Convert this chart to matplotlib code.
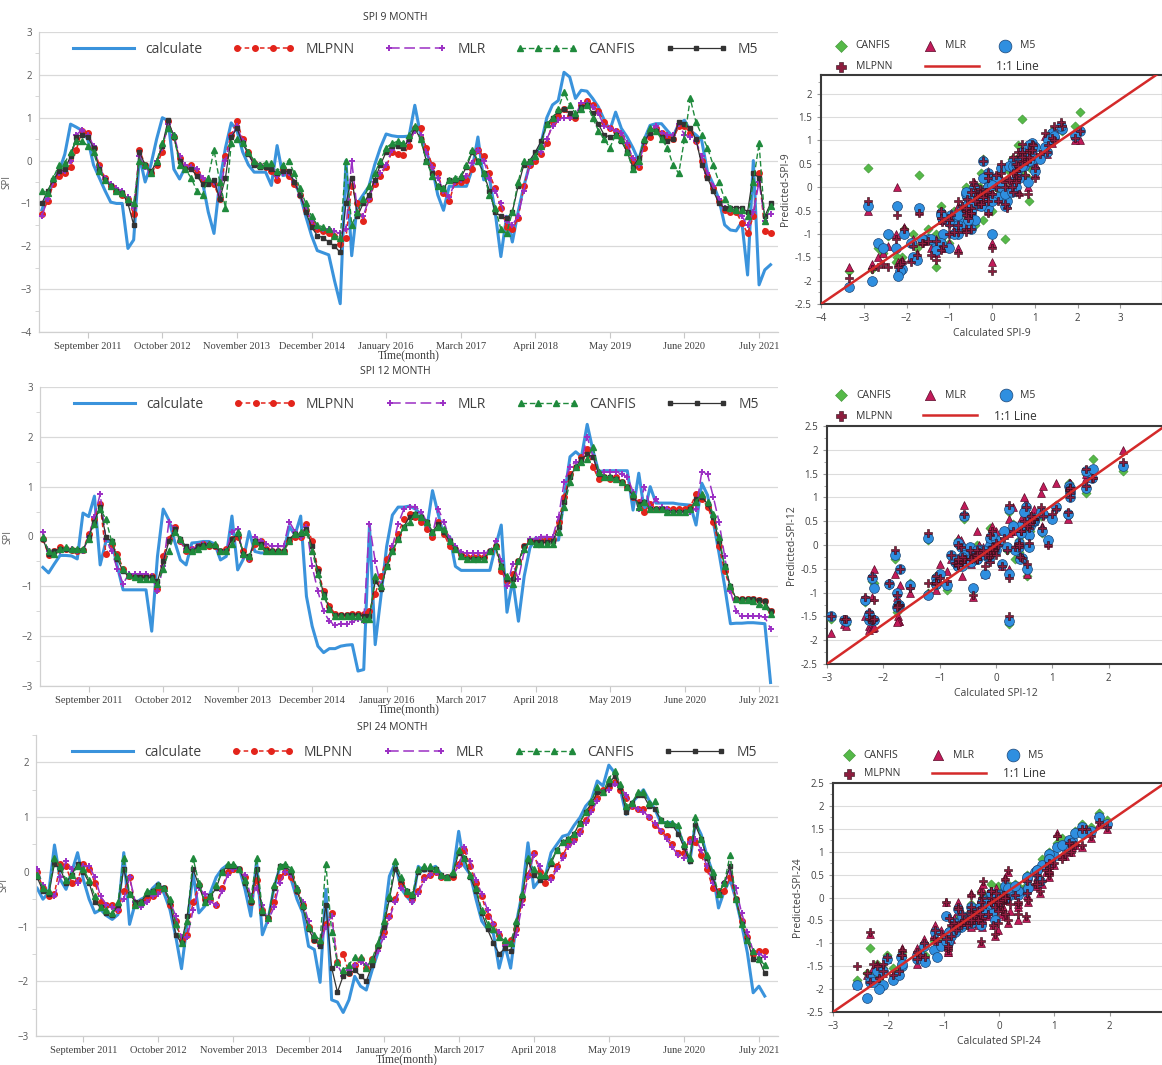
import numpy as np
import matplotlib
matplotlib.use('Agg')
import matplotlib.pyplot as plt
from matplotlib.lines import Line2D
from matplotlib.legend_handler import HandlerLine2D
from matplotlib.ticker import MultipleLocator, FuncFormatter

plt.rcParams['font.family'] = ['Open Sans', 'DejaVu Sans']

month_labels = ['September 2011', 'October 2012', 'November 2013', 'December 2014',
                'January 2016', 'March 2017', 'April 2018', 'May 2019', 'June 2020', 'July 2021']
month_ticks = [8, 21, 34, 47, 60, 73, 86, 99, 112, 125]

# ---------------- SPI 9 ----------------
calc9 = [-1.15, -0.80, -0.50, -0.25, 0.15, 0.85, 0.78, 0.70, 0.50, -0.10,
         -0.40, -0.70, -0.97, -1.00, -1.00, -2.05, -1.85, 0.10, -0.50, -0.10,
         0.50, 1.00, 0.93, -0.20, -0.43, -0.15, -0.15, -0.20, -0.50, -1.20,
         -1.70, -0.50, 0.30, 0.88, 0.70, 0.20, -0.10, -0.27, -0.27, -0.27,
         -0.58, 0.35, -0.35, -0.32, -0.50, -0.80, -1.30, -1.75, -2.10, -2.15,
         -2.20, -2.80, -3.34, 0.00, -2.22, -1.00, -0.80, -0.60, -0.10, 0.30,
         0.62, 0.58, 0.56, 0.56, 0.57, 1.29, 0.60, 0.20, -0.15, -0.80,
         -1.16, -0.60, -0.60, -0.60, -0.60, -0.20, 0.55, -0.45, -0.40, -1.20,
         -2.24, -1.30, -1.90, -1.20, -0.60, -0.10, 0.10, 0.40, 1.00, 1.30,
         1.40, 2.06, 1.95, 1.45, 1.64, 1.62, 1.45, 1.25, 0.95, 0.71,
         1.13, 0.75, 0.55, 0.30, 0.00, 0.50, 0.82, 0.86, 0.86, 0.70,
         0.55, 0.86, 0.94, 0.70, 0.60, 0.47, -0.26, -0.55, -0.90, -1.50,
         -1.62, -1.64, -1.43, -2.67, 0.00, -2.90, -2.55, -2.43]
mlpnn9 = [-1.25, -0.95, -0.55, -0.35, -0.30, -0.15, 0.25, 0.70, 0.65, 0.30,
          -0.10, -0.40, -0.60, -0.70, -0.80, -0.90, -1.25, 0.25, -0.10, -0.30,
          -0.10, 0.20, 0.92, 0.55, 0.05, -0.15, -0.10, -0.30, -0.45, -0.50,
          -0.55, -0.90, 0.10, 0.60, 0.92, 0.50, 0.20, -0.05, -0.12, -0.15,
          -0.25, -0.45, -0.20, -0.35, -0.55, -0.80, -1.15, -1.45, -1.60, -1.65,
          -1.70, -1.75, -1.95, -1.80, -0.60, -1.00, -1.40, -0.90, -0.55, -0.35,
          -0.15, 0.20, 0.15, 0.12, 0.35, 0.75, 0.75, 0.30, -0.10, -0.30,
          -0.75, -0.95, -0.50, -0.50, -0.45, -0.20, 0.25, 0.10, -0.30, -0.65,
          -1.10, -1.55, -1.60, -1.35, -0.60, -0.10, 0.00, 0.15, 0.40, 0.90,
          1.05, 1.20, 1.05, 1.00, 1.30, 1.40, 1.30, 1.15, 0.90, 0.75,
          0.70, 0.55, 0.35, 0.00, -0.15, 0.30, 0.55, 0.75, 0.65, 0.55,
          0.50, 0.80, 0.80, 0.65, 0.45, 0.00, -0.35, -0.65, -0.95, -1.15,
          -1.20, -1.20, -1.45, -1.70, -1.30, -0.30, -1.65, -1.70]
mlr9 = [-1.30, -0.90, -0.50, -0.30, -0.25, 0.00, 0.60, 0.72, 0.60, 0.35,
        -0.15, -0.40, -0.55, -0.65, -0.70, -0.85, -1.10, 0.10, -0.15, -0.30,
        0.00, 0.30, 0.85, 0.60, 0.10, -0.10, -0.15, -0.20, -0.40, -0.50,
        -0.50, -0.80, 0.00, 0.55, 0.80, 0.45, 0.15, -0.10, -0.10, -0.15,
        -0.10, -0.35, -0.30, -0.30, -0.50, -0.80, -1.10, -1.40, -1.55, -1.60,
        -1.60, -1.65, -1.70, -1.60, 0.00, -1.20, -1.30, -0.90, -0.50, -0.30,
        -0.10, 0.25, 0.35, 0.35, 0.45, 0.70, 0.60, 0.20, -0.15, -0.40,
        -0.70, -0.85, -0.50, -0.45, -0.35, -0.05, 0.25, 0.00, -0.40, -0.70,
        -1.00, -1.40, -1.50, -1.30, -0.70, -0.10, 0.05, 0.20, 0.50, 0.80,
        0.95, 1.00, 1.00, 1.05, 1.35, 1.35, 1.25, 1.10, 0.80, 0.75,
        0.70, 0.65, 0.40, 0.05, -0.10, 0.40, 0.70, 0.80, 0.65, 0.60,
        0.60, 0.85, 0.60, 0.55, 0.45, 0.10, -0.30, -0.60, -0.90, -1.10,
        -1.15, -1.15, -1.30, -1.50, -1.20, -0.50, -1.40, -1.25]
canfis9 = [-0.70, -0.75, -0.40, -0.10, -0.05, 0.20, 0.45, 0.45, 0.35, 0.20,
           -0.25, -0.45, -0.60, -0.70, -0.75, -0.90, -1.00, 0.00, -0.10, -0.30,
           0.00, 0.40, 0.75, 0.60, -0.10, -0.20, -0.40, -0.70, -0.80, -0.40,
           0.25, -0.50, -1.10, 0.40, 0.50, 0.40, 0.20, 0.00, -0.10, -0.05,
           -0.05, -0.25, -0.10, 0.00, -0.30, -0.65, -1.00, -1.30, -1.50, -1.55,
           -1.60, -1.75, -1.80, 0.00, -1.50, -1.20, -0.90, -0.60, -0.30, 0.00,
           0.30, 0.40, 0.45, 0.40, 0.60, 0.80, 0.50, 0.00, -0.35, -0.60,
           -0.65, -0.45, -0.40, -0.35, -0.10, 0.25, 0.00, -0.30, -0.80, -1.10,
           -1.60, -1.70, -1.20, -0.50, 0.00, 0.00, 0.10, 0.35, 0.85, 1.00,
           1.20, 1.60, 1.30, 1.10, 1.20, 1.30, 1.00, 0.70, 0.50, 0.30,
           0.60, 0.50, 0.20, -0.20, 0.00, 0.50, 0.75, 0.70, 0.50, 0.30,
           -0.10, -0.30, 0.50, 1.45, 0.90, 0.60, 0.30, -0.10, -0.50, -0.90,
           -1.10, -1.15, -1.15, -1.30, -0.50, 0.40, -1.40, -1.05]
m5_9 = [-1.00, -0.70, -0.45, -0.25, -0.20, 0.10, 0.55, 0.60, 0.55, 0.30,
        -0.20, -0.45, -0.60, -0.70, -0.75, -1.00, -1.50, 0.20, -0.10, -0.25,
        -0.05, 0.35, 0.95, 0.55, 0.00, -0.20, -0.20, -0.35, -0.55, -0.55,
        -0.45, -0.90, -0.40, 0.55, 0.75, 0.40, 0.15, -0.10, -0.15, -0.15,
        -0.20, -0.30, -0.25, -0.25, -0.50, -0.80, -1.20, -1.55, -1.75, -1.80,
        -1.90, -2.00, -2.14, -1.00, -0.40, -1.30, -1.00, -0.80, -0.45, -0.10,
        0.20, 0.35, 0.35, 0.30, 0.50, 0.75, 0.50, 0.00, -0.30, -0.60,
        -0.65, -0.45, -0.45, -0.40, -0.15, 0.20, 0.00, -0.30, -0.70, -1.20,
        -1.30, -1.35, -1.20, -0.60, -0.10, 0.00, 0.20, 0.45, 0.85, 1.00,
        1.15, 1.20, 1.10, 1.05, 1.25, 1.30, 1.10, 0.85, 0.60, 0.55,
        0.60, 0.45, 0.20, -0.15, 0.05, 0.45, 0.65, 0.70, 0.55, 0.45,
        0.50, 0.90, 0.85, 0.75, 0.50, -0.10, -0.40, -0.70, -1.00, -1.10,
        -1.10, -1.10, -1.10, -1.20, -0.30, -0.40, -1.30, -1.00]

# ---------------- SPI 12 ----------------
calc12 = [-0.62, -0.73, -0.55, -0.38, -0.38, -0.39, -0.45, 0.47, 0.40, 0.81,
          -0.57, -0.10, -0.10, -0.60, -1.07, -1.07, -1.07, -1.07, -1.07, -1.90,
          -0.40, 0.55, 0.33, -0.10, -0.47, -0.57, -0.13, -0.12, -0.10, -0.10,
          -0.15, -0.47, -0.40, 0.41, -0.67, -0.45, 0.10, -0.30, -0.33, -0.33,
          -0.33, -0.33, -0.33, 0.20, 0.03, 0.41, -1.20, -1.80, -2.20, -2.33,
          -2.25, -2.25, -2.20, -2.18, -2.17, -2.70, -2.67, 0.23, -2.17, -1.20,
          -0.20, 0.43, 0.59, 0.59, 0.61, 0.55, 0.45, 0.15, 0.92, 0.45,
          0.00, 0.00, -0.60, -0.68, -0.68, -0.68, -0.68, -0.68, -0.68, -0.20,
          0.23, -1.52, -0.87, -1.70, -0.80, -0.23, -0.03, -0.05, -0.06, -0.07,
          -0.07, 0.80, 1.60, 1.70, 1.60, 2.25, 1.73, 1.30, 1.32, 1.32,
          1.32, 1.32, 1.32, 0.53, 1.27, 0.50, 1.00, 0.67, 0.67, 0.67,
          0.67, 0.65, 0.64, 0.63, 0.23, 1.07, 0.83, 0.30, -0.33, -1.00,
          -1.75, -1.74, -1.74, -1.73, -1.73, -1.74, -1.75, -2.93]
mlpnn12 = [-0.05, -0.37, -0.30, -0.22, -0.25, -0.28, -0.30, -0.28, 0.05, 0.35,
           0.65, -0.35, -0.15, -0.35, -0.65, -0.80, -0.80, -0.82, -0.80, -0.80,
           -1.05, -0.40, -0.05, 0.20, -0.10, -0.30, -0.25, -0.20, -0.15, -0.20,
           -0.20, -0.30, -0.25, -0.05, 0.00, -0.30, -0.45, -0.15, -0.10, -0.25,
           -0.30, -0.30, -0.30, -0.10, 0.00, 0.00, 0.25, -0.10, -0.65, -1.10,
           -1.40, -1.55, -1.58, -1.57, -1.55, -1.55, -1.55, -1.50, -1.15, -0.80,
           -0.45, -0.25, 0.05, 0.35, 0.45, 0.40, 0.30, 0.15, 0.00, 0.30,
           0.05, -0.20, -0.25, -0.35, -0.42, -0.42, -0.42, -0.42, -0.30, -0.20,
           -0.70, -0.90, -0.75, -0.50, -0.20, -0.10, -0.10, -0.10, -0.05, -0.05,
           0.30, 0.80, 1.25, 1.40, 1.60, 1.75, 1.40, 1.15, 1.20, 1.15,
           1.20, 1.10, 1.00, 0.80, 0.70, 0.50, 0.65, 0.55, 0.55, 0.55,
           0.55, 0.55, 0.55, 0.60, 0.85, 0.75, 0.60, 0.30, -0.20, -0.70,
           -1.05, -1.25, -1.25, -1.25, -1.26, -1.28, -1.30, -1.50]
mlr12 = [0.10, -0.30, -0.35, -0.30, -0.25, -0.25, -0.30, -0.30, 0.00, 0.40,
         0.85, -0.05, -0.30, -0.65, -0.95, -0.75, -0.75, -0.75, -0.75, -0.80,
         -1.10, -0.60, 0.30, 0.15, -0.10, -0.25, -0.25, -0.20, -0.15, -0.15,
         -0.20, -0.30, -0.30, 0.10, 0.15, -0.40, -0.45, 0.00, -0.10, -0.15,
         -0.20, -0.20, -0.20, 0.30, 0.10, 0.00, 0.20, -0.60, -1.10, -1.50,
         -1.70, -1.78, -1.75, -1.75, -1.72, -1.65, -1.70, 0.25, -0.50, -1.00,
         -0.60, -0.20, 0.25, 0.55, 0.60, 0.60, 0.50, 0.30, 0.05, 0.55,
         0.30, -0.05, -0.20, -0.32, -0.33, -0.33, -0.33, -0.33, -0.30, -0.10,
         -0.50, -1.00, -0.55, -0.85, -0.30, -0.05, -0.05, 0.00, 0.00, 0.00,
         0.40, 1.10, 1.40, 1.50, 1.50, 2.00, 1.60, 1.30, 1.30, 1.30,
         1.30, 1.25, 1.20, 0.90, 0.55, 1.00, 0.60, 0.75, 0.60, 0.55,
         0.50, 0.50, 0.50, 0.50, 0.55, 1.30, 1.25, 0.80, 0.30, -0.40,
         -1.10, -1.50, -1.60, -1.60, -1.60, -1.60, -1.62, -1.85]
canfis12 = [0.00, -0.30, -0.35, -0.25, -0.22, -0.25, -0.25, -0.25, -0.05, 0.25,
            0.55, 0.35, -0.10, -0.40, -0.65, -0.78, -0.82, -0.85, -0.85, -0.85,
            -0.95, -0.65, -0.30, 0.10, -0.05, -0.25, -0.30, -0.25, -0.20, -0.15,
            -0.15, -0.30, -0.30, -0.15, 0.10, -0.35, -0.40, -0.10, -0.20, -0.30,
            -0.30, -0.30, -0.30, -0.10, 0.05, 0.10, 0.10, -0.30, -0.75, -1.20,
            -1.45, -1.60, -1.60, -1.60, -1.60, -1.60, -1.65, -1.65, -0.80, -1.00,
            -0.60, -0.30, -0.05, 0.20, 0.30, 0.45, 0.40, 0.30, 0.10, 0.20,
            0.15, -0.10, -0.25, -0.40, -0.45, -0.45, -0.45, -0.45, -0.30, -0.20,
            -0.60, -0.80, -0.95, -0.50, -0.25, -0.10, -0.15, -0.15, -0.15, -0.15,
            0.10, 0.60, 1.10, 1.40, 1.50, 1.55, 1.80, 1.30, 1.20, 1.20,
            1.15, 1.10, 1.00, 0.85, 0.60, 0.70, 0.55, 0.55, 0.55, 0.50,
            0.50, 0.50, 0.50, 0.55, 0.70, 0.85, 0.70, 0.45, 0.00, -0.60,
            -1.00, -1.25, -1.27, -1.28, -1.30, -1.35, -1.40, -1.55]
m5_12 = [-0.05, -0.35, -0.30, -0.25, -0.25, -0.28, -0.28, -0.28, 0.00, 0.30,
         0.60, 0.00, -0.10, -0.45, -0.70, -0.80, -0.82, -0.82, -0.82, -0.82,
         -0.90, -0.50, -0.10, 0.15, -0.05, -0.20, -0.30, -0.20, -0.18, -0.17,
         -0.20, -0.30, -0.30, -0.05, 0.05, -0.35, -0.40, -0.10, -0.15, -0.28,
         -0.30, -0.30, -0.30, -0.05, 0.05, 0.05, 0.15, -0.20, -0.70, -1.15,
         -1.45, -1.58, -1.58, -1.58, -1.57, -1.57, -1.60, -1.60, -0.90, -1.05,
         -0.60, -0.30, -0.05, 0.20, 0.40, 0.45, 0.40, 0.30, 0.10, 0.25,
         0.10, -0.10, -0.25, -0.40, -0.45, -0.45, -0.45, -0.45, -0.30, -0.20,
         -0.60, -0.85, -0.85, -0.50, -0.20, -0.10, -0.12, -0.12, -0.12, -0.10,
         0.20, 0.70, 1.20, 1.40, 1.55, 1.65, 1.60, 1.25, 1.20, 1.20,
         1.15, 1.10, 1.00, 0.80, 0.65, 0.70, 0.55, 0.55, 0.55, 0.50,
         0.50, 0.50, 0.50, 0.55, 0.75, 0.80, 0.65, 0.40, -0.10, -0.60,
         -1.00, -1.25, -1.25, -1.25, -1.26, -1.28, -1.30, -1.50]

# ---------------- SPI 24 ----------------
calc24 = [-0.30, -0.50, -0.38, 0.49, -0.14, -0.32, 0.00, 0.35, -0.14, -0.50,
          -0.75, -0.69, -0.80, -0.87, -0.78, 0.35, -0.96, -0.57, -0.50, -0.45,
          -0.30, -0.20, -0.40, -0.69, -1.18, -1.77, -0.93, -0.02, -0.75, -0.63,
          -0.38, -0.10, 0.05, 0.13, 0.10, 0.07, -0.32, -0.81, 0.20, -1.15,
          -0.87, -0.30, 0.07, 0.10, -0.14, -0.50, -0.75, -1.36, -1.42, -2.02,
          -0.32, -2.34, -2.38, -2.57, -2.34, -1.91, -2.09, -2.16, -1.80, -1.48,
          -0.93, -0.08, 0.16, -0.30, -0.45, -0.57, 0.10, 0.01, 0.05, 0.10,
          -0.05, -0.14, -0.02, 0.74, 0.10, -0.05, -0.50, -0.90, -1.05, -1.12,
          -1.76, -1.34, -1.76, -0.93, -0.38, 0.53, -0.29, -0.15, -0.08, 0.35,
          0.50, 0.65, 0.68, 0.85, 0.99, 1.20, 1.32, 1.66, 1.57, 1.95,
          1.81, 1.50, 1.05, 1.26, 1.38, 1.50, 1.30, 1.14, 0.90, 0.90,
          0.90, 0.77, 0.50, 0.16, 0.90, 0.68, 0.29, -0.02, -0.66, -0.35,
          -0.14, -0.50, -0.96, -1.48, -2.21, -2.09, -2.27]
mlpnn24 = [0.00, -0.30, -0.45, -0.40, 0.15, 0.10, -0.20, -0.15, 0.15, 0.05,
           -0.20, -0.55, -0.60, -0.60, -0.70, -0.35, -0.10, -0.60, -0.55, -0.50,
           -0.45, -0.35, -0.30, -0.60, -0.90, -1.25, -1.15, -0.55, -0.25, -0.50,
           -0.50, -0.60, -0.30, 0.00, 0.05, 0.05, -0.10, -0.55, -0.15, -0.70,
           -0.85, -0.55, -0.10, 0.00, -0.10, -0.35, -0.60, -1.00, -1.25, -1.30,
           -0.95, -0.75, -1.65, -1.50, -1.85, -1.70, -1.60, -1.75, -1.60, -1.35,
           -1.10, -0.80, -0.50, -0.20, -0.40, -0.50, -0.35, -0.10, -0.05, 0.00,
           -0.10, -0.10, -0.10, 0.15, 0.40, 0.10, -0.20, -0.45, -0.80, -0.95,
           -1.15, -1.30, -1.25, -1.05, -0.50, -0.05, 0.35, 0.00, -0.20, -0.10,
           0.10, 0.30, 0.50, 0.60, 0.75, 0.95, 1.15, 1.35, 1.50, 1.55,
           1.65, 1.50, 1.35, 1.20, 1.15, 1.15, 1.00, 0.85, 0.75, 0.65,
           0.50, 0.35, 0.35, 0.60, 0.55, 0.30, 0.05, -0.30, -0.35, -0.35,
           -0.10, -0.50, -0.90, -1.20, -1.50, -1.45, -1.45]
mlr24 = [0.05, -0.25, -0.40, -0.45, -0.10, 0.20, 0.05, -0.20, 0.10, 0.10,
         -0.10, -0.45, -0.60, -0.65, -0.70, -0.50, -0.10, -0.55, -0.65, -0.55,
         -0.45, -0.40, -0.30, -0.55, -0.80, -1.20, -1.20, -0.70, -0.30, -0.40,
         -0.55, -0.60, -0.35, -0.05, 0.05, 0.05, -0.05, -0.45, -0.30, -0.60,
         -0.90, -0.65, -0.20, 0.00, -0.05, -0.30, -0.55, -0.90, -1.20, -1.35,
         -1.00, -0.80, -1.70, -1.90, -1.80, -1.70, -1.65, -1.70, -1.65, -1.45,
         -1.20, -0.85, -0.55, -0.30, -0.35, -0.55, -0.40, -0.15, -0.05, 0.00,
         -0.10, -0.10, -0.05, 0.10, 0.45, 0.20, -0.15, -0.40, -0.70, -0.95,
         -1.10, -1.35, -1.30, -1.15, -0.60, -0.10, 0.30, 0.10, -0.10, -0.15,
         0.05, 0.25, 0.45, 0.55, 0.70, 0.90, 1.10, 1.30, 1.45, 1.50,
         1.60, 1.55, 1.40, 1.20, 1.15, 1.10, 1.00, 0.90, 0.75, 0.60,
         0.45, 0.30, 0.25, 0.55, 0.60, 0.40, 0.10, -0.20, -0.40, -0.20,
         0.00, -0.30, -0.75, -1.10, -1.45, -1.50, -1.55]
canfis24 = [-0.05, -0.30, -0.35, 0.25, 0.10, -0.15, -0.05, 0.10, 0.05, -0.15,
            -0.45, -0.65, -0.70, -0.75, -0.55, 0.25, -0.40, -0.60, -0.55, -0.35,
            -0.35, -0.25, -0.30, -0.50, -0.95, -1.30, -0.90, 0.25, -0.20, -0.55,
            -0.45, -0.25, 0.00, 0.15, 0.15, 0.05, -0.15, -0.50, 0.25, -0.70,
            -0.85, -0.25, 0.10, 0.15, 0.05, -0.30, -0.60, -1.00, -1.15, -1.25,
            0.15, -1.10, -1.65, -1.80, -1.70, -1.55, -1.55, -1.75, -1.60, -1.30,
            -0.90, -0.45, 0.20, -0.10, -0.35, -0.40, 0.05, 0.10, 0.10, 0.05,
            -0.05, -0.10, 0.00, 0.40, 0.25, -0.05, -0.30, -0.70, -0.95, -1.05,
            -1.20, -1.25, -1.30, -0.90, -0.40, 0.25, 0.05, -0.05, -0.05, 0.20,
            0.40, 0.55, 0.60, 0.70, 0.90, 1.10, 1.30, 1.55, 1.45, 1.70,
            1.85, 1.60, 1.20, 1.25, 1.45, 1.45, 1.25, 1.30, 0.95, 0.90,
            0.90, 0.85, 0.50, 0.25, 1.00, 0.60, 0.30, 0.00, -0.40, -0.20,
            0.30, -0.50, -0.95, -1.25, -1.45, -1.60, -1.70]
m5_24 = [-0.10, -0.35, -0.40, 0.15, 0.05, -0.20, -0.05, 0.15, 0.00, -0.20,
         -0.55, -0.65, -0.75, -0.78, -0.60, 0.05, -0.40, -0.55, -0.55, -0.40,
         -0.35, -0.25, -0.30, -0.55, -1.15, -1.30, -0.80, 0.05, -0.25, -0.55,
         -0.45, -0.30, 0.00, 0.10, 0.10, 0.05, -0.20, -0.55, 0.05, -0.75,
         -0.85, -0.30, 0.10, 0.10, 0.00, -0.35, -0.65, -1.05, -1.25, -1.35,
         -0.60, -1.75, -2.20, -1.90, -1.85, -1.80, -1.90, -2.00, -1.70, -1.35,
         -1.00, -0.50, 0.05, -0.15, -0.35, -0.45, 0.00, 0.05, 0.05, 0.05,
         -0.05, -0.10, -0.05, 0.35, 0.25, -0.10, -0.35, -0.75, -1.05, -1.30,
         -1.50, -1.40, -1.45, -0.95, -0.45, 0.20, -0.05, -0.15, -0.10, 0.15,
         0.40, 0.55, 0.60, 0.70, 0.90, 1.10, 1.25, 1.45, 1.45, 1.60,
         1.75, 1.55, 1.10, 1.25, 1.40, 1.40, 1.20, 1.15, 0.95, 0.85,
         0.85, 0.70, 0.45, 0.20, 0.85, 0.60, 0.25, -0.10, -0.40, -0.20,
         0.10, -0.50, -0.95, -1.25, -1.60, -1.60, -1.85]

W, H = 1162, 1065
fig = plt.figure(figsize=(W / 100, H / 100), dpi=100)


def px_rect(left, top, right, bottom):
    return [left / W, 1 - bottom / H, (right - left) / W, (bottom - top) / H]


def series_panel(rect, title, title_xy, calc, mlp, mlr, canf, m5, ylim, xlim):
    ax = fig.add_axes(rect)
    x = np.arange(len(calc))
    l_calc, = ax.plot(x, calc, color='#3a93dc', lw=2.2, zorder=2)
    l_mlp, = ax.plot(np.arange(len(mlp)), mlp, color='#e3241b', lw=1.1, dashes=(3, 2),
                     marker='o', ms=4, zorder=3)
    l_mlr, = ax.plot(np.arange(len(mlr)), mlr, color='#9b2fc4', lw=1.1, dashes=(7, 3),
                     marker='+', ms=5, mew=1.4, zorder=3)
    l_m5, = ax.plot(np.arange(len(m5)), m5, color='#333333', lw=0.9,
                    marker='s', ms=2.8, zorder=4)
    l_canf, = ax.plot(np.arange(len(canf)), canf, color='#1f8a3c', lw=1.0, dashes=(4, 2),
                      marker='^', ms=4, zorder=5)

    ax.set_xlim(*xlim)
    ax.set_ylim(*ylim)
    ax.yaxis.set_major_locator(MultipleLocator(1))
    ax.yaxis.set_minor_locator(MultipleLocator(0.5))
    ax.grid(axis='y', which='major', color='#d9d9d9', lw=0.9)
    ax.set_axisbelow(True)
    for s in ['top', 'right']:
        ax.spines[s].set_visible(False)
    for s in ['left', 'bottom']:
        ax.spines[s].set_color('#d0d0d0')
        ax.spines[s].set_linewidth(0.9)
    ax.tick_params(axis='y', which='major', length=0, labelsize=7, labelcolor='#595959', pad=5)
    ax.tick_params(axis='y', which='minor', length=3, color='#d0d0d0')
    ax.set_xticks(month_ticks)
    ax.set_xticklabels(month_labels, family='Liberation Serif', fontsize=7.5, color='#404040')
    ax.tick_params(axis='x', length=4, color='#c8c8c8', pad=3)
    ax.set_xlabel('Time(month)', family='Liberation Serif', fontsize=8.5, color='#404040', labelpad=-1)
    ax.set_ylabel('SPI', fontsize=7, color='#595959', labelpad=6)

    fig.text(title_xy[0] / W, 1 - title_xy[1] / H, title, fontsize=7.5,
             color='#333333', ha='center', va='center')

    handles = [l_calc, l_mlp, l_mlr, l_canf, l_m5]
    labels = ['calculate', 'MLPNN', 'MLR', 'CANFIS', 'M5']
    leg = ax.legend(handles, labels, loc='upper center', bbox_to_anchor=(0.51, 1.0), ncol=5,
                    frameon=False, fontsize=10, handlelength=4.4, handletextpad=0.8,
                    columnspacing=2.2, borderaxespad=0.3,
                    handler_map={l_mlp: HandlerLine2D(numpoints=4),
                                 l_mlr: HandlerLine2D(numpoints=2),
                                 l_canf: HandlerLine2D(numpoints=4),
                                 l_m5: HandlerLine2D(numpoints=3)})
    for t in leg.get_texts():
        t.set_color('#404040')
    return ax


def scatter_panel(rect, name, calc, mlp, mlr, canf, m5, xlim, ylim, leg_pos):
    ax = fig.add_axes(rect)
    c = np.array(calc)
    h_canf = ax.scatter(c, canf, marker='D', s=22, c='#55b948', edgecolors='#3f8f35', linewidths=0.4, zorder=3)
    h_mlr = ax.scatter(c, mlr, marker='^', s=32, c='#c21b5a', edgecolors='#5c0c2a', linewidths=0.5, zorder=4)
    h_m5 = ax.scatter(c, m5, marker='o', s=50, c='#2f8fe0', edgecolors='#1d4677', linewidths=0.5, zorder=5)
    h_mlp = ax.scatter(c, mlp, marker='P', s=30, c='#8c1d3e', edgecolors='#2a0a14', linewidths=0.4, zorder=6)
    l_one, = ax.plot(xlim, [-2.5, 2.5], color='#d42a2a', lw=1.8, zorder=7)

    ax.set_xlim(*xlim)
    ax.set_ylim(*ylim)
    ax.set_xticks(np.arange(xlim[0], xlim[1]))
    ax.yaxis.set_major_locator(MultipleLocator(0.5))
    ax.yaxis.set_minor_locator(MultipleLocator(0.25))
    ax.yaxis.set_major_formatter(FuncFormatter(lambda v, p: '%g' % round(v, 2)))
    ax.grid(axis='y', which='major', color='#dcdcdc', lw=0.8)
    ax.set_axisbelow(True)
    for s in ax.spines.values():
        s.set_color('#3a3a3a')
        s.set_linewidth(1.5)
    ax.tick_params(axis='both', which='major', length=3, color='#999999', labelsize=7, labelcolor='#404040')
    ax.tick_params(axis='y', which='minor', length=2, color='#999999')
    ax.set_xlabel('Calculated ' + name, fontsize=7.5, color='#404040', labelpad=3)
    ax.set_ylabel('Predicted-' + name, fontsize=7.5, color='#404040', labelpad=3)

    x0, y1, y2, xline = leg_pos
    common = dict(frameon=False, fontsize=7.5, handletextpad=0.9, borderaxespad=0,
                  borderpad=0, loc='center left', markerscale=1.3)
    leg1 = ax.legend([h_canf, h_mlr, h_m5], ['CANFIS', 'MLR', 'M5'], ncol=3,
                     bbox_to_anchor=(x0, y1), handlelength=1.0, columnspacing=3.3, **common)
    leg2 = ax.legend([h_mlp], ['MLPNN'], bbox_to_anchor=(x0, y2), handlelength=1.0, **common)
    leg3 = ax.legend([l_one], ['1:1 Line'], bbox_to_anchor=(xline, y2), handlelength=4.6,
                     **dict(common, fontsize=8.5, handletextpad=1.4))
    ax.add_artist(leg1)
    ax.add_artist(leg2)
    for lg in (leg1, leg2, leg3):
        for t in lg.get_texts():
            t.set_color('#333333')
    return ax


series_panel(px_rect(39, 32, 778, 332), 'SPI 9 MONTH', (395, 17),
             calc9, mlpnn9, mlr9, canfis9, m5_9, (-4, 3), (-0.5, 128.3))
series_panel(px_rect(40, 387, 778, 686), 'SPI 12 MONTH', (395, 372),
             calc12, mlpnn12, mlr12, canfis12, m5_12, (-3, 3), (-0.5, 128.3))
series_panel(px_rect(36, 735, 778, 1036), 'SPI 24 MONTH', (392, 727),
             calc24, mlpnn24, mlr24, canfis24, m5_24, (-3, 2.5), (-0.2, 128.3))

scatter_panel(px_rect(821, 75, 1163, 304), 'SPI-9', calc9, mlpnn9, mlr9, canfis9, m5_9,
              (-4, 4), (-2.5, 2.4), (0.044, 1.127, 1.035, 0.304))
scatter_panel(px_rect(827, 426, 1165, 664), 'SPI-12', calc12, mlpnn12, mlr12, canfis12, m5_12,
              (-3, 3), (-2.5, 2.5), (0.027, 1.13, 1.042, 0.284))
scatter_panel(px_rect(833, 783, 1165, 1012), 'SPI-24', calc24, mlpnn24, mlr24, canfis24, m5_24,
              (-3, 3), (-2.5, 2.5), (0.033, 1.122, 1.04, 0.298))

fig.savefig('out.png', dpi=100)
